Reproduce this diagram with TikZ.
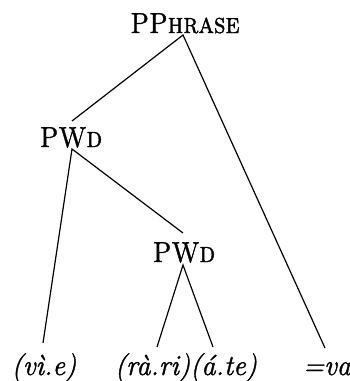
\documentclass[tikz,border=0pt]{standalone}
\usepackage{fontspec}
\usetikzlibrary{calc}
\newfontfamily\lmcaps{Latin Modern Roman Caps}[FakeBold=1.2, FakeStretch=0.87]
\newfontfamily\lmital{Latin Modern Roman}[FakeBold=1.3, FakeStretch=0.97]
\begin{document}
\begin{tikzpicture}[x=1pt,y=-1pt,
  lab/.style={inner sep=0pt, anchor=base, font=\lmcaps\fontsize{29}{31}\selectfont},
  leaf/.style={inner sep=0pt, anchor=base, font=\lmital\fontsize{29}{31}\selectfont\itshape},
  edge/.style={line width=1.2pt}]
\useasboundingbox (0,0) rectangle (350,381);
\node[lab] (pp) at (185,33) {PPhrase};
\node[lab] (pw1) at (71,147) {PWd};
\node[lab] (pw2) at (184,262) {PWd};
\node[leaf] (l1) at (44,375) {(vì.e)};
\node[leaf] (l2) at (186,375) {(rà.ri)(á.te)};
\node[leaf] (l3) at (327,375) {=va};
\draw[edge] ($(pw1.base)+(1,-26)$) -- ($(pp.base)+(-2,2)$) -- ($(l3.base)+(-2,-27)$);
\draw[edge] ($(l1.base)+(-1,-32)$) -- ($(pw1.base)+(1,2)$) -- ($(pw2.base)+(-1,-29)$);
\draw[edge] ($(l2.base)+(-29,-28)$) -- ($(pw2.base)+(-1,3)$) -- ($(l2.base)+(27,-28)$);
\end{tikzpicture}
\end{document}
